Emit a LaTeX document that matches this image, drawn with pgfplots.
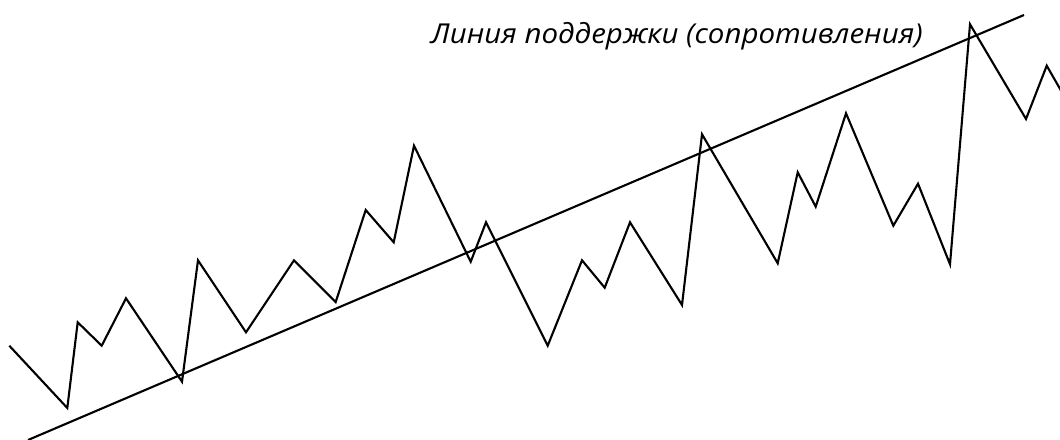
\documentclass[border=0pt]{standalone}
\usepackage{graphicx}
\usepackage{pgfplots}
\pgfplotsset{compat=1.18}
\usepackage{fontspec}
\setmainfont{Open Sans}
\begin{document}
\begin{tikzpicture}
\begin{axis}[
  scale only axis, width=10.6cm, height=4.39cm,
  xmin=0, xmax=1060, ymin=0, ymax=439, y dir=reverse,
  hide axis, clip=true,
]
\addplot[black, line width=0.6pt, line join=miter] coordinates {
(9.3,345.7) (67.3,408) (77.7,322.3) (101.7,345.7) (126,298.3) (182,381.7)
(198,260.3) (246,332.3) (294,260.3) (335.7,302) (365.7,210) (393.7,242.3)
(414,145.7) (470.7,261.7) (486,222.3) (547.7,345.7) (582,260.3) (604.7,287.7)
(630,222.3) (682,305) (702,134.3) (777.7,263.3) (797.7,172.3) (815.7,206.7)
(846,113.3) (893.3,225.7) (918,183.7) (950,264.3) (970,24.3) (1026,119)
(1046.7,65.7) (1075,115)
};
\addplot[black, line width=0.6pt] coordinates {(28,440) (1024,15)};
\node[anchor=base west, inner sep=0pt, font=\fontsize{7.8pt}{9pt}\selectfont\itshape] at (axis cs:430,43.3) {\scalebox{1.075}[1]{Линия поддержки (сопротивления)}};
\end{axis}
\pgfresetboundingbox
\useasboundingbox (0,0) rectangle (10.6cm,4.39cm);
\end{tikzpicture}
\end{document}
